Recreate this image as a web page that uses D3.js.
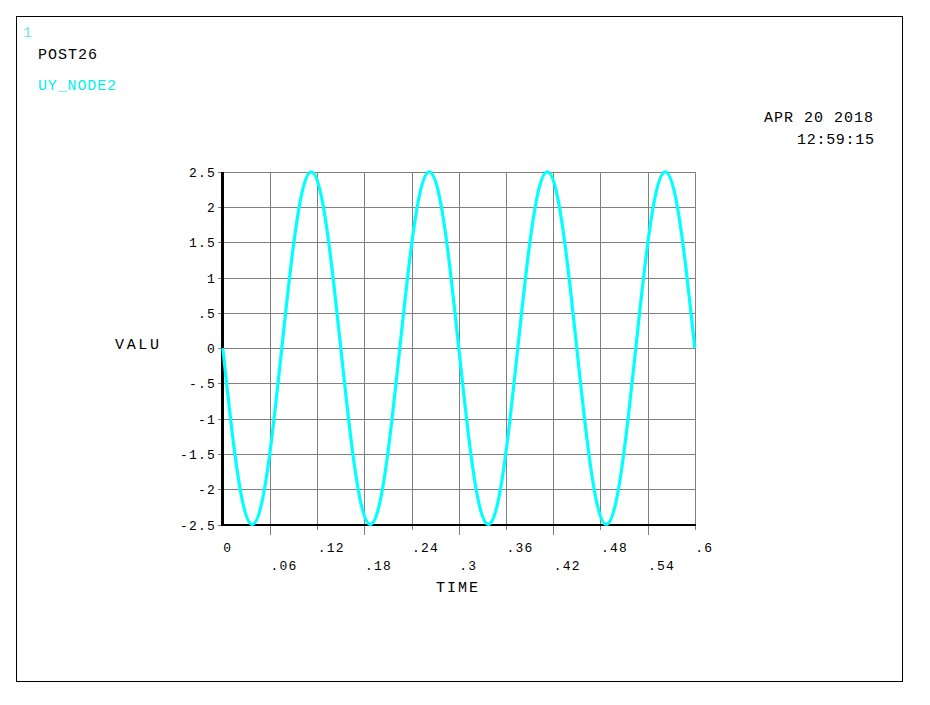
<!DOCTYPE html>
<html>
<head>
<meta charset="utf-8">
<script src="https://cdn.jsdelivr.net/npm/d3@7"></script>
<style>
  html, body { margin: 0; padding: 0; background: #ffffff; }
  svg { display: block; }
  text { font-family: "Liberation Mono", "DejaVu Sans Mono", monospace; }
</style>
</head>
<body>
<svg id="chart" width="930" height="705"></svg>
<script>
// ---- data ----
const timeValues = [0, 0.0125, 0.025, 0.0375, 0.05, 0.0625, 0.075, 0.0875, 0.1, 0.1125, 0.125, 0.1375,
  0.15, 0.1625, 0.175, 0.1875, 0.2, 0.2125, 0.225, 0.2375, 0.25, 0.2625, 0.275, 0.2875,
  0.3, 0.3125, 0.325, 0.3375, 0.35, 0.3625, 0.375, 0.3875, 0.4, 0.4125, 0.425, 0.4375,
  0.45, 0.4625, 0.475, 0.4875, 0.5, 0.5125, 0.525, 0.5375, 0.55, 0.5625, 0.575, 0.5875, 0.6];
const uyNode2 = [0, -1.25, -2.17, -2.5, -2.17, -1.25, 0, 1.25, 2.17, 2.5, 2.17, 1.25,
  0, -1.25, -2.17, -2.5, -2.17, -1.25, 0, 1.25, 2.17, 2.5, 2.17, 1.25,
  0, -1.25, -2.17, -2.5, -2.17, -1.25, 0, 1.25, 2.17, 2.5, 2.17, 1.25,
  0, -1.25, -2.17, -2.5, -2.17, -1.25, 0, 1.25, 2.17, 2.5, 2.17, 1.25, 0];
const xTicks = [0, 0.06, 0.12, 0.18, 0.24, 0.3, 0.36, 0.42, 0.48, 0.54, 0.6];
const xTickLabels = ["0", ".06", ".12", ".18", ".24", ".3", ".36", ".42", ".48", ".54", ".6"];
const yTicks = [-2.5, -2, -1.5, -1, -0.5, 0, 0.5, 1, 1.5, 2, 2.5];
const yTickLabels = ["-2.5", "-2", "-1.5", "-1", "-.5", "0", ".5", "1", "1.5", "2", "2.5"];
const windowNumber = "1";
const programName = "POST26";
const seriesName = "UY_NODE2";
const dateText = "APR 20 2018";
const timeText = "12:59:15";
const xTitle = "TIME";
const yTitle = "VALU";

// ---- drawing ----
const svg = d3.select("#chart");
const x = d3.scaleLinear().domain([0, 0.6]).range([222.8, 694.8]);
const y = d3.scaleLinear().domain([-2.5, 2.5]).range([524.5, 171.8]);
const grid = "#808080";

// frame
svg.append("rect").attr("x", 16.5).attr("y", 16.5).attr("width", 886).attr("height", 665)
  .attr("fill", "none").attr("stroke", "#000").attr("stroke-width", 1);

// header texts
svg.append("text").attr("x", 23).attr("y", 37).attr("font-size", 15).attr("fill", "#6fe3ea").text(windowNumber);
svg.append("text").attr("x", 38).attr("y", 59).attr("font-size", 15).attr("fill", "#000")
  .attr("textLength", 59).attr("lengthAdjust", "spacing").text(programName);
svg.append("text").attr("x", 38).attr("y", 90).attr("font-size", 15).attr("fill", "#00f0f0")
  .attr("textLength", 78).attr("lengthAdjust", "spacing").text(seriesName);
svg.append("text").attr("x", 764).attr("y", 122).attr("font-size", 15).attr("fill", "#000")
  .attr("textLength", 109).attr("lengthAdjust", "spacing").text(dateText);
svg.append("text").attr("x", 797).attr("y", 144).attr("font-size", 15).attr("fill", "#000")
  .attr("textLength", 77).attr("lengthAdjust", "spacing").text(timeText);

// grid lines
const gGrid = svg.append("g").attr("shape-rendering", "crispEdges");
gGrid.selectAll("line.h").data(yTicks).join("line")
  .attr("x1", 218).attr("x2", x(0.6))
  .attr("y1", d => Math.round(y(d)) + 0.5).attr("y2", d => Math.round(y(d)) + 0.5)
  .attr("stroke", grid).attr("stroke-width", 1);
gGrid.selectAll("line.v").data(xTicks.slice(1)).join("line")
  .attr("x1", d => Math.round(x(d)) + 0.5).attr("x2", d => Math.round(x(d)) + 0.5)
  .attr("y1", y(2.5)).attr("y2", (d, i) => i % 2 === 0 ? 535 : 530)
  .attr("stroke", grid).attr("stroke-width", 1);

// axes lines
svg.append("line").attr("x1", 222.5).attr("x2", 222.5).attr("y1", y(2.5)).attr("y2", 526)
  .attr("stroke", "#000").attr("stroke-width", 3.5).attr("shape-rendering", "crispEdges");
svg.append("line").attr("x1", 221).attr("x2", x(0.6) + 1).attr("y1", 525).attr("y2", 525)
  .attr("stroke", "#000").attr("stroke-width", 2).attr("shape-rendering", "crispEdges");

// y tick labels
svg.append("g").selectAll("text").data(yTicks).join("text")
  .attr("x", 216).attr("y", d => y(d) + 5)
  .attr("text-anchor", "end").attr("font-size", 13).attr("letter-spacing", 1.2)
  .attr("fill", "#000").text((d, i) => yTickLabels[i]);

// x tick labels (staggered)
svg.append("g").selectAll("text").data(xTicks).join("text")
  .attr("x", d => x(d) + 0.5).attr("y", (d, i) => i % 2 === 0 ? 552 : 570)
  .attr("font-size", 13).attr("letter-spacing", 1.2)
  .attr("fill", "#000").text((d, i) => xTickLabels[i]);

// axis titles
svg.append("text").attr("x", 115).attr("y", 349).attr("font-size", 15).attr("fill", "#000")
  .attr("textLength", 44).attr("lengthAdjust", "spacing").text(yTitle);
svg.append("text").attr("x", 436).attr("y", 592).attr("font-size", 15).attr("fill", "#000")
  .attr("textLength", 42).attr("lengthAdjust", "spacing").text(xTitle);

// curve
const pts = timeValues.map((t, i) => [t, uyNode2[i]]);
const line = d3.line().x(d => x(d[0])).y(d => y(d[1])).curve(d3.curveNatural);
svg.append("path").datum(pts).attr("d", line)
  .attr("fill", "none").attr("stroke", "#00ffff").attr("stroke-width", 3.2)
  .attr("stroke-linejoin", "round");
</script>
</body>
</html>
